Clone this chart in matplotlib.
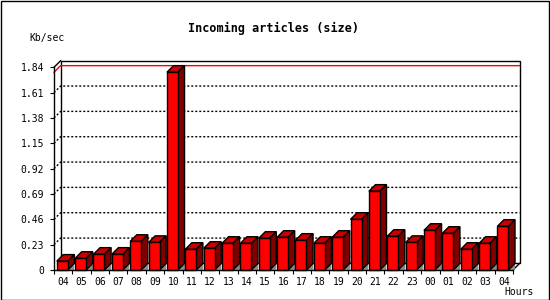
import numpy as np
import matplotlib
matplotlib.use("Agg")
import matplotlib.pyplot as plt
from matplotlib.patches import Polygon, Rectangle

# Incoming articles per hour (Kb/sec)
hours = ["04", "05", "06", "07", "08", "09", "10", "11", "12", "13", "14", "15", "16",
         "17", "18", "19", "20", "21", "22", "23", "00", "01", "02", "03", "04"]
kbsec = [0.08, 0.106, 0.143, 0.143, 0.26, 0.25, 1.795, 0.188, 0.197, 0.242, 0.242, 0.288, 0.297,
         0.27, 0.242, 0.297, 0.46, 0.715, 0.306, 0.25, 0.36, 0.333, 0.188, 0.242, 0.397]
yticks = [0, 0.23, 0.46, 0.69, 0.92, 1.15, 1.38, 1.61, 1.84]
ytick_labels = ["0", "0.23", "0.46", "0.69", "0.92", "1.15", "1.38", "1.61", "1.84"]

plt.rcParams['lines.scale_dashes'] = False
mono = "DejaVu Sans Mono"

W, H = 550, 300
fig = plt.figure(figsize=(5.5, 3), dpi=100, facecolor='white')

# front plot area in pixels
left, right, base, top = 54, 513, 270, 67.3
ax = fig.add_axes([left / W, 1 - base / H, (right - left) / W, (base - top) / H])
n = len(hours)
ax.set_xlim(-0.5, n - 0.5)
ax.set_ylim(0, yticks[-1])
ax.patch.set_visible(False)

# 3D depth in pixels -> data units
depth = 6.6
dx = depth * n / (right - left)
dy = depth * yticks[-1] / (base - top)
x_lo, x_hi = -0.5, n - 0.5

# back plane
ax.add_patch(Rectangle((x_lo + dx, dy), x_hi - x_lo, yticks[-1], facecolor='white',
                       edgecolor='black', lw=1, clip_on=False, zorder=0))

# dotted grid lines going front -> back
for v in yticks[1:-1]:
    ax.plot([x_lo, x_lo + dx, x_hi + dx], [v, v + dy, v + dy], color='black', lw=1,
            dashes=(1.44, 1.44), clip_on=False, zorder=1)

# max line in red
vmax = max(kbsec)
ax.plot([x_lo, x_lo + dx, x_hi + dx], [vmax, vmax + dy, vmax + dy], color='#ff0000', lw=1,
        clip_on=False, zorder=1)

# front axis corners
ax.plot([x_lo, x_lo + dx], [yticks[-1], yticks[-1] + dy], color='black', lw=1, clip_on=False, zorder=1)
ax.plot([x_hi, x_hi + dx], [0, dy], color='black', lw=1, clip_on=False, zorder=1)

# bars
bw = 0.6
xs = np.arange(n)
ax.bar(xs - 0.35, kbsec, width=bw, align='edge', color='#ff0000', edgecolor='black',
       linewidth=1, zorder=4, clip_on=False)
for i, v in enumerate(kbsec):
    x0 = i - 0.35
    x1 = x0 + bw
    ax.add_patch(Polygon([(x1, 0), (x1 + dx, 0), (x1 + dx, dy)], closed=True,
                         facecolor='#8c8c8c', edgecolor='none', zorder=2, clip_on=False))
    ax.add_patch(Polygon([(x0, v), (x1, v), (x1 + dx, v + dy), (x0 + dx, v + dy)], closed=True,
                         facecolor='#c80000', edgecolor='black', lw=1, zorder=3, clip_on=False))
    ax.add_patch(Polygon([(x1, 0), (x1 + dx, dy), (x1 + dx, v + dy), (x1, v)], closed=True,
                         facecolor='#800000', edgecolor='black', lw=1, zorder=3, clip_on=False))

# axes styling
for s in ['top', 'right']:
    ax.spines[s].set_visible(False)
for s in ['left', 'bottom']:
    ax.spines[s].set_linewidth(1)
    ax.spines[s].set_zorder(5)
ax.set_yticks(yticks)
ax.set_yticklabels(ytick_labels, fontfamily=mono, fontsize=7)
ax.tick_params(axis='y', direction='out', length=3, width=0.8, pad=4)
ax.set_xticks(xs)
ax.set_xticklabels(hours, fontfamily=mono, fontsize=7)
ax.set_xticks(np.arange(n + 1) - 0.5, minor=True)
ax.tick_params(axis='x', which='major', length=0, pad=5)
ax.tick_params(axis='x', which='minor', direction='out', length=3, width=0.8)

# texts
fig.text(274 / W, 1 - 28 / H, "Incoming articles (size)", ha='center', va='center',
         fontfamily=mono, fontweight='bold', fontsize=8.5)
fig.text(47.5 / W, 1 - 38.5 / H, "Kb/sec", ha='center', va='center', fontfamily=mono, fontsize=7)
fig.text(534 / W, 1 - 292 / H, "Hours", ha='right', va='center', fontfamily=mono, fontsize=7)

# outer border
fig.add_artist(Rectangle((0.5 / W, 0.5 / H), 1 - 1.5 / W, 1 - 1.5 / H, transform=fig.transFigure,
                         fill=False, edgecolor='black', lw=1))

fig.savefig("out.png", dpi=100)
